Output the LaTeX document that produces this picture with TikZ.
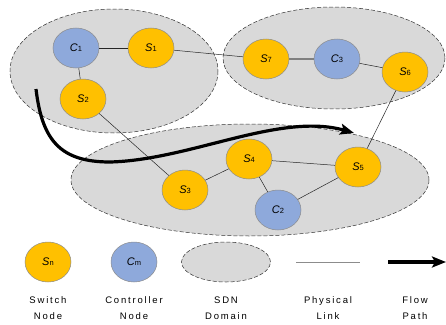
\documentclass[tikz,border=0pt]{standalone}
\usepackage{fontspec}
\setmainfont{Liberation Sans}
\usetikzlibrary{arrows.meta,shapes.geometric}
\definecolor{swy}{HTML}{FFC000}
\definecolor{ctb}{HTML}{8EA9DB}
\definecolor{dom}{HTML}{D9D9D9}
\tikzset{
  sw/.style={ellipse,fill=swy,draw=black!45,line width=0.5pt,minimum width=46pt,minimum height=40pt,inner sep=0pt,font=\fontsize{11}{11}\selectfont},
  ct/.style={ellipse,fill=ctb,draw=black!45,line width=0.5pt,minimum width=46pt,minimum height=40pt,inner sep=0pt,font=\fontsize{11}{11}\selectfont},
  sdndom/.style={fill=dom,draw=black!80,dash pattern=on 4pt off 2pt,line width=0.5pt},
  link/.style={draw=black!85,line width=0.5pt},
  flow/.style={line width=3.2pt,-{Stealth[length=14pt,width=11pt,inset=3pt]}},
  lab/.style={font=\fontsize{9.5}{16}\selectfont\addfontfeatures{LetterSpace=19},align=center}
}
\newcommand{\nl}[2]{{\itshape #1}{\fontsize{7.5}{7.5}\selectfont #2}}
\begin{document}
\begin{tikzpicture}[x=1pt,y=-1pt]
\useasboundingbox (0,0) rectangle (446,324);
% domains
\draw[sdndom] (114,71) ellipse [x radius=104, y radius=62];
\draw[sdndom] (334,58) ellipse [x radius=111, y radius=51];
\draw[sdndom] (250,180) ellipse [x radius=179, y radius=56];
% nodes
\node[ct] (c1) at (76,48) {\nl{C}{1}};
\node[sw] (s1) at (151,48) {\nl{S}{1}};
\node[sw] (s2) at (83,99) {\nl{S}{2}};
\node[sw] (s7) at (266,59) {\nl{S}{7}};
\node[ct] (c3) at (337,59) {\nl{C}{3}};
\node[sw] (s6) at (405,72) {\nl{S}{6}};
\node[sw] (s3) at (185,190) {\nl{S}{3}};
\node[sw] (s4) at (249,159) {\nl{S}{4}};
\node[sw] (s5) at (358,167) {\nl{S}{5}};
\node[ct] (c2) at (278,210) {\nl{C}{2}};
% links
\draw[link] (c1) -- (s1);
\draw[link] (c1) -- (s2);
\draw[link] (s1) -- (s7);
\draw[draw=black!50,line width=1.2pt] (s7) -- (c3);
\draw[link] (c3) -- (s6);
\draw[link] (s6) -- (s5);
\draw[link] (s2) -- (s3);
\draw[link] (s3) -- (s4);
\draw[link] (s4) -- (s5);
\draw[link] (s4) -- (c2);
\draw[link] (c2) -- (s5);
% flow path
\coordinate (f0) at (36,89);
\coordinate (f1) at (110,162);
\coordinate (f2) at (354,133);
\draw[flow] (f0) .. controls (42,140) and (60,162) .. (f1) .. controls (190,160) and (280,112) .. (f2);
% legend
\node[sw] (lsw) at (48,262) {\nl{S}{n}};
\node[ct] (lct) at (134,262) {\nl{C}{m}};
\node[sdndom,ellipse,minimum width=89pt,minimum height=40pt] (ldom) at (226,262) {};
\coordinate (la) at (296,262);
\coordinate (lb) at (360,262);
\draw[draw=black!45,line width=1pt] (la) -- (lb);
\coordinate (fa) at (388,262);
\coordinate (fb) at (446,262);
\draw[flow] (fa) -- (fb);
\node[lab] (t1) at (48,308) {Switch\\Node};
\node[lab] (t2) at (134,308) {Controller\\Node};
\node[lab] (t3) at (226,308) {SDN\\Domain};
\node[lab] (t4) at (328,308) {Physical\\Link};
\node[lab] (t5) at (415,308) {Flow\\Path};
\end{tikzpicture}
\end{document}
